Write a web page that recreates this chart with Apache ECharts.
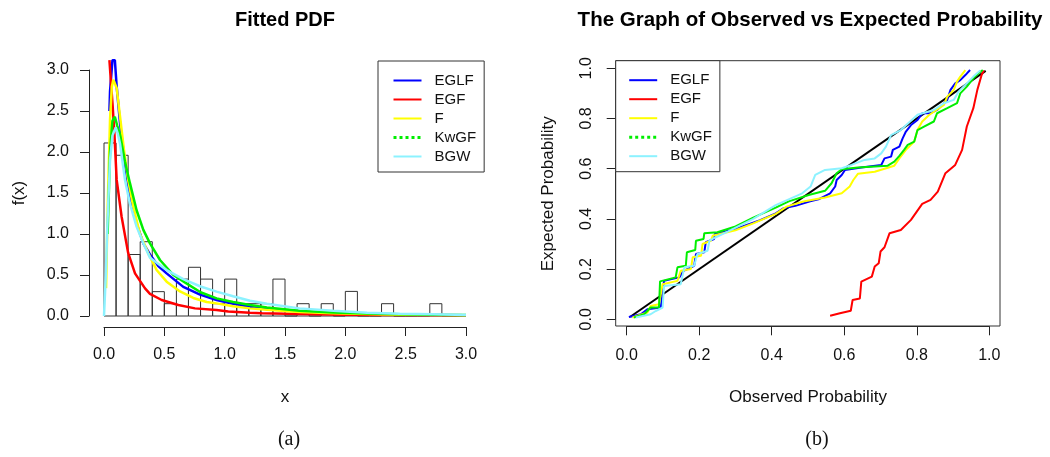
<!DOCTYPE html>
<html>
<head>
<meta charset="utf-8">
<script src="https://cdn.jsdelivr.net/npm/echarts@6/dist/echarts.min.js"></script>
<style>html,body{margin:0;padding:0;background:#fff;}#c{width:1050px;height:457px;}</style>
</head>
<body>
<div id="c"></div>
<script>
// ---------- Panel (a): histogram + fitted PDFs ----------
const xTicksA = [0, 0.5, 1, 1.5, 2, 2.5, 3];
const binWidth = 0.1;
const binLeft = [0.0,0.1,0.2,0.3,0.4,0.5,0.6,0.7,0.8,0.9,1.0,1.1,1.2,1.3,1.4,1.5,1.6,1.7,1.8,1.9,2.0,2.1,2.2,2.3,2.4,2.5,2.6,2.7,2.8,2.9];
const binHeight = [2.11,1.96,0.75,0.906,0.297,0.15,0.45,0.594,0.45,0.15,0.45,0.15,0.15,0.15,0.45,0,0.15,0,0.15,0,0.3,0,0,0.15,0,0,0,0.15,0,0];

const pdfEGLF = [[0.045,2.5],[0.05,2.74],[0.07,3.12],[0.09,3.12],[0.105,2.8],[0.133,2.35],[0.174,1.86],[0.215,1.455],[0.27,1.13],[0.326,0.886],[0.381,0.75],[0.45,0.61],[0.519,0.52],[0.657,0.355],[0.796,0.26],[0.933,0.195],[1.07,0.15],[1.21,0.114],[1.35,0.093],[1.62,0.055],[1.9,0.035],[2.18,0.024],[2.45,0.016],[2.73,0.012],[3.0,0.008]];
const pdfEGF = [[0.045,3.12],[0.06,2.8],[0.07,2.6],[0.086,2.23],[0.105,1.66],[0.146,1.21],[0.2,0.77],[0.257,0.52],[0.34,0.337],[0.381,0.27],[0.478,0.195],[0.616,0.134],[0.754,0.093],[0.933,0.073],[1.03,0.055],[1.21,0.041],[1.31,0.035],[1.62,0.025],[2.0,0.016],[2.5,0.011],[3.0,0.008]];
const pdfF = [[0.017,0.34],[0.03,1.3],[0.05,2.4],[0.065,2.8],[0.077,2.88],[0.09,2.86],[0.105,2.78],[0.133,2.43],[0.166,2.02],[0.2,1.66],[0.243,1.33],[0.298,1.0],[0.367,0.764],[0.436,0.561],[0.519,0.419],[0.63,0.3],[0.74,0.22],[0.851,0.17],[0.933,0.154],[1.07,0.12],[1.21,0.093],[1.35,0.075],[1.62,0.05],[1.9,0.033],[2.18,0.024],[2.45,0.015],[2.73,0.012],[3.0,0.008]];
const pdfKwGF = [[0.03,1.0],[0.05,2.0],[0.07,2.38],[0.09,2.43],[0.11,2.32],[0.133,2.21],[0.174,1.88],[0.215,1.62],[0.27,1.29],[0.326,1.05],[0.381,0.886],[0.464,0.683],[0.575,0.5],[0.67,0.41],[0.8,0.29],[0.933,0.215],[1.07,0.17],[1.21,0.134],[1.35,0.105],[1.62,0.065],[1.9,0.043],[2.18,0.03],[2.45,0.022],[2.73,0.016],[3.0,0.012]];
const pdfBGW = [[0.0,0.0],[0.015,0.5],[0.03,1.2],[0.05,1.9],[0.07,2.2],[0.097,2.3],[0.115,2.22],[0.133,2.1],[0.174,1.66],[0.215,1.37],[0.27,1.09],[0.326,0.886],[0.381,0.71],[0.519,0.56],[0.657,0.45],[0.8,0.36],[0.933,0.297],[1.07,0.24],[1.21,0.187],[1.35,0.15],[1.62,0.093],[1.9,0.065],[2.18,0.04],[2.45,0.028],[2.73,0.02],[3.0,0.012]];

// ---------- Panel (b): observed vs expected probability ----------
const ppDiagonal = [[0.01,0.01],[0.99,0.99]];
const ppEGLF = [[0.006,0.009],[0.039,0.02],[0.057,0.04],[0.094,0.047],[0.099,0.107],[0.103,0.153],[0.145,0.167],[0.157,0.193],[0.186,0.213],[0.191,0.26],[0.214,0.267],[0.218,0.307],[0.241,0.32],[0.243,0.34],[0.30,0.36],[0.368,0.395],[0.411,0.422],[0.432,0.442],[0.465,0.452],[0.506,0.47],[0.529,0.478],[0.561,0.502],[0.575,0.529],[0.579,0.555],[0.593,0.575],[0.602,0.595],[0.647,0.605],[0.702,0.615],[0.711,0.641],[0.729,0.648],[0.734,0.675],[0.752,0.688],[0.761,0.721],[0.770,0.748],[0.784,0.774],[0.802,0.794],[0.815,0.821],[0.838,0.821],[0.856,0.834],[0.875,0.861],[0.884,0.874],[0.893,0.914],[0.906,0.94],[0.920,0.953],[0.934,0.973],[0.947,0.993]];
const ppEGF = [[0.561,0.014],[0.588,0.024],[0.618,0.034],[0.623,0.077],[0.643,0.083],[0.647,0.150],[0.676,0.170],[0.684,0.210],[0.695,0.223],[0.700,0.270],[0.711,0.287],[0.725,0.343],[0.756,0.356],[0.784,0.396],[0.815,0.460],[0.838,0.476],[0.858,0.509],[0.879,0.582],[0.906,0.615],[0.925,0.675],[0.938,0.768],[0.956,0.841],[0.967,0.914],[0.979,0.974],[0.985,0.991]];
const ppF = [[0.016,0.007],[0.057,0.027],[0.066,0.053],[0.089,0.06],[0.099,0.14],[0.14,0.153],[0.149,0.193],[0.177,0.2],[0.182,0.247],[0.205,0.253],[0.209,0.3],[0.232,0.313],[0.237,0.333],[0.30,0.355],[0.349,0.382],[0.411,0.42],[0.441,0.449],[0.487,0.469],[0.547,0.485],[0.593,0.502],[0.615,0.529],[0.625,0.555],[0.638,0.58],[0.684,0.588],[0.738,0.612],[0.752,0.641],[0.77,0.675],[0.793,0.708],[0.802,0.754],[0.815,0.788],[0.834,0.814],[0.847,0.827],[0.875,0.854],[0.884,0.887],[0.902,0.914],[0.911,0.947],[0.92,0.967],[0.934,0.993]];
const ppKwGF = [[0.02,0.007],[0.048,0.02],[0.066,0.047],[0.089,0.047],[0.092,0.151],[0.135,0.167],[0.14,0.207],[0.163,0.213],[0.166,0.267],[0.189,0.276],[0.191,0.313],[0.212,0.32],[0.214,0.343],[0.25,0.347],[0.30,0.37],[0.349,0.405],[0.411,0.445],[0.447,0.47],[0.502,0.495],[0.547,0.512],[0.565,0.542],[0.579,0.582],[0.593,0.598],[0.638,0.605],[0.72,0.612],[0.738,0.628],[0.752,0.651],[0.765,0.675],[0.775,0.695],[0.793,0.708],[0.802,0.754],[0.82,0.768],[0.847,0.788],[0.856,0.821],[0.884,0.841],[0.911,0.861],[0.92,0.9],[0.938,0.927],[0.956,0.96],[0.97,0.98],[0.982,0.993]];
const ppBGW = [[0.025,0.007],[0.066,0.02],[0.08,0.033],[0.099,0.047],[0.103,0.133],[0.149,0.14],[0.159,0.207],[0.186,0.213],[0.195,0.26],[0.223,0.273],[0.228,0.313],[0.246,0.327],[0.28,0.35],[0.349,0.40],[0.411,0.455],[0.484,0.502],[0.507,0.529],[0.52,0.575],[0.547,0.595],[0.593,0.602],[0.62,0.615],[0.656,0.635],[0.684,0.641],[0.702,0.661],[0.715,0.688],[0.729,0.734],[0.756,0.754],[0.802,0.815],[0.847,0.834],[0.875,0.861],[0.902,0.874],[0.915,0.907],[0.938,0.94],[0.956,0.967],[0.975,0.991]];

const legendNames = ['EGLF','EGF','F','KwGF','BGW'];
const colors = {EGLF:'#0000ff', EGF:'#ff0000', F:'#ffff00', KwGF:'#00ee00', BGW:'#8cf2ff'};

const FONT = '"Liberation Sans", Arial, Helvetica, sans-serif';
const axisCommon = {
  type:'value',
  splitLine:{show:false},
  axisLine:{show:true, onZero:false, lineStyle:{color:'#222', width:1}},
  axisTick:{show:true, length:9, lineStyle:{color:'#222', width:1}},
  nameTextStyle:{fontFamily:FONT, fontSize:17, color:'#111'}
};
function lbl(extra){ return Object.assign({color:'#111', fontFamily:FONT, fontSize:16, formatter:v=>v.toFixed(1)}, extra); }

const chart = echarts.init(document.getElementById('c'), null, {renderer:'canvas'});

function legendData(){
  return legendNames.map(n => n === 'KwGF' ? {name:n, lineStyle:{type:'dotted', width:3}} : {name:n});
}

const pdfs = {EGLF:pdfEGLF, EGF:pdfEGF, F:pdfF, KwGF:pdfKwGF, BGW:pdfBGW};
const pps = {EGLF:ppEGLF, EGF:ppEGF, F:ppF, KwGF:ppKwGF, BGW:ppBGW};

const series = [];
series.push({
  type:'custom', xAxisIndex:0, yAxisIndex:0, silent:true, clip:false,
  data: binLeft.map((l,i)=>[l, l+binWidth, binHeight[i]]),
  renderItem:(params, api)=>{
    const a = api.coord([api.value(0), api.value(2)]);
    const b = api.coord([api.value(1), 0]);
    return {type:'rect', shape:{x:a[0], y:a[1], width:b[0]-a[0], height:b[1]-a[1]},
            style:{fill:'none', stroke:'#333', lineWidth:1}};
  }
});
legendNames.forEach(n=>{
  series.push({name:n, type:'line', xAxisIndex:0, yAxisIndex:0, data:pdfs[n], symbol:'none', clip:false,
    lineStyle:{color:colors[n], width:2.5}, itemStyle:{color:colors[n]}, silent:true, z:3});
});
series.push({name:'Diagonal', type:'line', xAxisIndex:1, yAxisIndex:1, data:ppDiagonal, symbol:'none', clip:false,
  lineStyle:{color:'#000', width:2}, silent:true, z:3});
legendNames.forEach(n=>{
  series.push({name:n, type:'line', xAxisIndex:1, yAxisIndex:1, data:pps[n], symbol:'none', clip:false,
    lineStyle:{color:colors[n], width:2}, itemStyle:{color:colors[n]}, silent:true, z:3});
});

const legendCommon = {
  orient:'vertical', selectedMode:false, itemWidth:28, itemHeight:12, itemGap:4,
  borderColor:'#333', borderWidth:1, borderRadius:0, backgroundColor:'#fff',
  itemStyle:{opacity:0, borderWidth:0},
  textStyle:{fontFamily:FONT, fontSize:15, color:'#111', padding:[0,0,0,8]},
  data: legendData()
};

chart.setOption({
  animation:false,
  title:[
    {text:'Fitted PDF', left:280, top:5, textAlign:'center', textStyle:{fontFamily:FONT, fontSize:20, fontWeight:'bold', color:'#000'}},
    {text:'The Graph of Observed vs Expected Probability', left:805, top:5, textAlign:'center', textStyle:{fontFamily:FONT, fontSize:20.5, fontWeight:'bold', color:'#000'}},
    {text:'(a)', left:284, top:425, textAlign:'center', textStyle:{fontFamily:'"Liberation Serif", "DejaVu Serif", serif', fontSize:20, fontWeight:'normal', color:'#111'}},
    {text:'(b)', left:812, top:425, textAlign:'center', textStyle:{fontFamily:'"Liberation Serif", "DejaVu Serif", serif', fontSize:20, fontWeight:'normal', color:'#111'}}
  ],
  legend:[
    Object.assign({left:378, top:61, padding:[12,8,8,14]}, legendCommon),
    Object.assign({left:615.7, top:60.7, padding:[12,8,8,12]}, legendCommon)
  ],
  grid:[
    {left:104, top:70, width:362, height:246},
    {left:626.7, top:68.3, width:362.6, height:251},
    {left:615.7, top:60.7, width:384.3, height:265.3, show:true, borderColor:'#333', borderWidth:1, backgroundColor:'transparent', z:1}
  ],
  xAxis:[
    Object.assign({}, axisCommon, {gridIndex:0, min:0, max:3, interval:0.5, offset:11,
      name:'x', nameLocation:'middle', nameGap:62, axisLabel:lbl({margin:20})}),
    Object.assign({}, axisCommon, {gridIndex:1, min:0, max:1, interval:0.2, offset:7,
      name:'Observed Probability', nameLocation:'middle', nameGap:63, axisLabel:lbl({margin:21})}),
    {type:'value', gridIndex:2, show:false, min:0, max:1}
  ],
  yAxis:[
    Object.assign({}, axisCommon, {gridIndex:0, min:0, max:3, interval:0.5, offset:15,
      name:'f(x)', nameLocation:'middle', nameGap:61, axisLabel:lbl({margin:20})}),
    Object.assign({}, axisCommon, {gridIndex:1, min:0, max:1, interval:0.2, offset:11,
      name:'Expected Probability', nameLocation:'middle', nameGap:59, axisLabel:lbl({margin:21, rotate:90})}),
    {type:'value', gridIndex:2, show:false, min:0, max:1}
  ],
  series: series
});
</script>
</body>
</html>
